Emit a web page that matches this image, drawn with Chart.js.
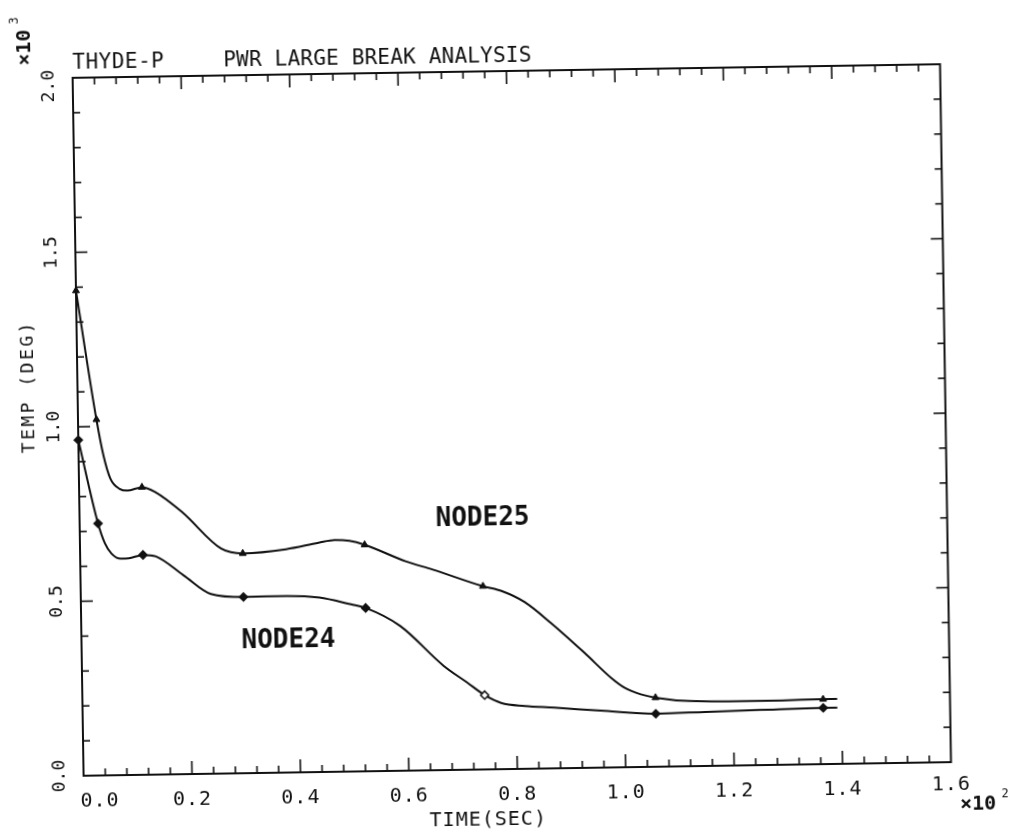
<!DOCTYPE html>
<html>
<head>
<meta charset="utf-8">
<title>THYDE-P PWR LARGE BREAK ANALYSIS</title>
<script src="https://cdn.jsdelivr.net/npm/chart.js@4.4.1/dist/chart.umd.min.js"></script>
<style>
  html, body { margin: 0; padding: 0; background: #fff; overflow: hidden; }
  #wrap { width: 1021px; height: 833px; transform: rotate(-0.9deg); transform-origin: 50% 50%; }
</style>
</head>
<body>
<div id="wrap"><canvas id="tempChart" width="1021" height="833"></canvas></div>
<script>
// time in units of 10^2 s, temperature in units of 10^3 deg
const markerTimes = [0, 0.034, 0.116, 0.30, 0.525, 0.742, 1.057, 1.366];
const node24OpenMarks = [0.742];

const node25Time = [0, 0.034, 0.046, 0.058, 0.075, 0.089, 0.116, 0.14, 0.19, 0.26, 0.30, 0.38, 0.44, 0.47, 0.497, 0.525, 0.60, 0.65, 0.742, 0.777, 0.818, 0.866, 0.927, 0.977, 1.0, 1.03, 1.057, 1.12, 1.25, 1.366, 1.392];
const node25Temp = [1.39, 1.02, 0.916, 0.85, 0.82, 0.815, 0.824, 0.81, 0.75, 0.645, 0.63, 0.64, 0.657, 0.664, 0.661, 0.649, 0.60, 0.575, 0.525, 0.51, 0.478, 0.417, 0.33, 0.255, 0.228, 0.208, 0.198, 0.187, 0.184, 0.186, 0.186];

const node24Time = [0, 0.034, 0.046, 0.058, 0.075, 0.09, 0.116, 0.14, 0.19, 0.24, 0.30, 0.38, 0.44, 0.498, 0.525, 0.588, 0.667, 0.71, 0.742, 0.772, 0.816, 0.87, 0.956, 1.057, 1.15, 1.25, 1.366, 1.392];
const node24Temp = [0.962, 0.722, 0.665, 0.635, 0.62, 0.621, 0.63, 0.625, 0.57, 0.515, 0.505, 0.506, 0.50, 0.479, 0.468, 0.415, 0.299, 0.25, 0.213, 0.19, 0.18, 0.174, 0.163, 0.152, 0.155, 0.158, 0.161, 0.161];

const xTickValues = [0, 0.2, 0.4, 0.6, 0.8, 1.0, 1.2, 1.4, 1.6];
const xTickLabels = ['0.0', '0.2', '0.4', '0.6', '0.8', '1.0', '1.2', '1.4', '1.6'];
const yTickValues = [0, 0.5, 1.0, 1.5, 2.0];
const yTickLabels = ['0.0', '0.5', '1.0', '1.5', '2.0'];

const MONO = '"DejaVu Sans Mono", "Liberation Mono", monospace';
const INK = '#111';

function toPoints(xs, ys) {
    return xs.map((x, i) => ({ x, y: ys[i] }));
}

function isMarker(c) {
    return c.raw && markerTimes.includes(c.raw.x);
}

function drawText(ctx, str, x, y, font, opts = {}) {
    ctx.save();
    ctx.font = font;
    ctx.fillStyle = INK;
    ctx.textAlign = opts.align || 'center';
    ctx.textBaseline = 'middle';
    if ('letterSpacing' in ctx) ctx.letterSpacing = (opts.spacing || 0) + 'px';
    ctx.translate(x, y);
    if (opts.rotate) ctx.rotate(opts.rotate);
    ctx.fillText(str, 0, 0);
    ctx.restore();
}

function tick(ctx, x1, y1, x2, y2) {
    ctx.beginPath();
    ctx.moveTo(x1, y1);
    ctx.lineTo(x2, y2);
    ctx.stroke();
}

// plotter style frame: box with inward ticks on every side, labels and titles
const plotterFrame = {
    id: 'plotterFrame',
    afterDraw(chart) {
        const ctx = chart.ctx;
        const { left, right, top, bottom } = chart.chartArea;
        const xs = chart.scales.x, ys = chart.scales.y;

        ctx.save();
        ctx.strokeStyle = INK;
        ctx.lineWidth = 2;
        ctx.strokeRect(left, top, right - left, bottom - top);

        ctx.lineWidth = 1.6;
        for (let i = 1; i < 40; i++) {
            const px = xs.getPixelForValue(i * 0.04);
            const len = i % 5 === 0 ? 13 : 7;
            tick(ctx, px, bottom, px, bottom - len);
            tick(ctx, px, top, px, top + len);
        }
        for (let i = 1; i < 20; i++) {
            const py = ys.getPixelForValue(i * 0.1);
            const len = i % 5 === 0 ? 12 : 7;
            tick(ctx, left, py, left + len, py);
            tick(ctx, right, py, right - len, py);
        }
        ctx.restore();

        // x tick labels
        xTickValues.forEach((v, i) => {
            let px = xs.getPixelForValue(v);
            let py = 795;
            if (i === 0) px += 16;
            if (i === xTickValues.length - 1) py -= 3;
            drawText(ctx, xTickLabels[i], px, py, '20px ' + MONO, { spacing: 1 });
        });
        // y tick labels, written upwards
        yTickValues.forEach((v, i) => {
            let py = ys.getPixelForValue(v);
            if (i === yTickValues.length - 1) py += 8;
            drawText(ctx, yTickLabels[i], 54, py, '18px ' + MONO, { rotate: -Math.PI / 2 });
        });

        // axis titles and scale factors
        drawText(ctx, 'TIME(SEC)', 482, 820, '20px ' + MONO, { spacing: 1 });
        drawText(ctx, 'TEMP (DEG)', 29, 379, '18px ' + MONO, { rotate: -Math.PI / 2, spacing: 2.5 });

        drawText(ctx, '×10', 972, 812, 'bold 20px ' + MONO, { spacing: 0 });
        drawText(ctx, '2', 999, 802, '12px ' + MONO);

        drawText(ctx, '×10', 31, 40, 'bold 20px ' + MONO, { rotate: -Math.PI / 2 });
        drawText(ctx, '3', 21, 13, '12px ' + MONO, { rotate: -Math.PI / 2 });

        // plot titles
        drawText(ctx, 'THYDE-P', 78, 57, '21px ' + MONO, { align: 'left', spacing: 0.5 });
        drawText(ctx, 'PWR LARGE BREAK ANALYSIS', 229, 57, '21px ' + MONO, { align: 'left', spacing: 0.2 });

        // curve names
        drawText(ctx, 'NODE25', 481, 518, 'bold 26px ' + MONO);
        drawText(ctx, 'NODE24', 285, 637, 'bold 26px ' + MONO);
    }
};

new Chart(document.getElementById('tempChart'), {
    type: 'line',
    data: {
        datasets: [{
            label: 'NODE25',
            data: toPoints(node25Time, node25Temp),
            borderColor: INK,
            borderWidth: 2,
            cubicInterpolationMode: 'monotone',
            pointStyle: 'triangle',
            pointRadius: c => isMarker(c) ? 4 : 0,
            pointBackgroundColor: INK,
            pointBorderColor: INK,
            pointBorderWidth: 1,
            clip: false
        }, {
            label: 'NODE24',
            data: toPoints(node24Time, node24Temp),
            borderColor: INK,
            borderWidth: 2,
            cubicInterpolationMode: 'monotone',
            pointStyle: 'rectRot',
            pointRadius: c => isMarker(c) ? 4 : 0,
            pointBackgroundColor: c => (c.raw && node24OpenMarks.includes(c.raw.x)) ? '#fff' : INK,
            pointBorderColor: INK,
            pointBorderWidth: 1.5,
            clip: false
        }]
    },
    options: {
        responsive: false,
        devicePixelRatio: 1,
        animation: false,
        events: [],
        layout: { padding: { left: 78, right: 75.5, top: 71, bottom: 64 } },
        plugins: {
            legend: { display: false },
            tooltip: { enabled: false }
        },
        scales: {
            x: { type: 'linear', min: 0, max: 1.6, display: false },
            y: { type: 'linear', min: 0, max: 2.0, display: false }
        }
    },
    plugins: [plotterFrame]
});
</script>
</body>
</html>
